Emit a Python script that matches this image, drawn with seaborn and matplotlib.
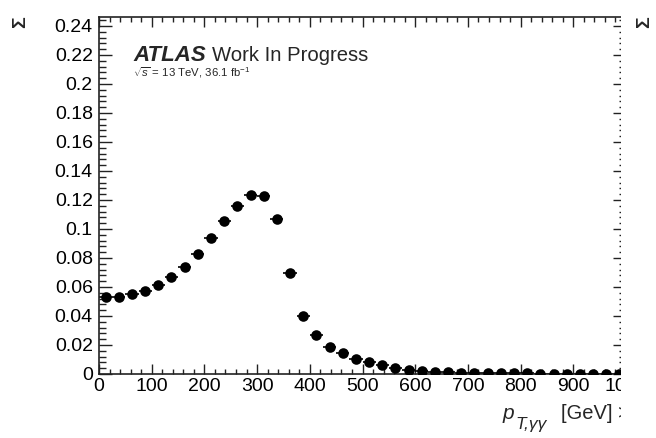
import numpy as np
import pandas as pd
import matplotlib
matplotlib.use("Agg")
import matplotlib.pyplot as plt
from matplotlib.ticker import MultipleLocator
from matplotlib.patches import Rectangle
import seaborn as sns

# Diphoton transverse momentum: 25 GeV bins from 0 to 1000 GeV
bin_edges = np.arange(0, 1001, 25)
bin_centers = 0.5 * (bin_edges[:-1] + bin_edges[1:])
fractions = [
    0.0529, 0.0533, 0.0550, 0.0572, 0.0614, 0.0667, 0.0740, 0.0830,
    0.0940, 0.1057, 0.1159, 0.1232, 0.1228, 0.1071, 0.0695, 0.0400,
    0.0267, 0.0188, 0.0143, 0.0102, 0.0080, 0.0060, 0.0044, 0.0030,
    0.0022, 0.0017, 0.0012, 0.0009, 0.0007, 0.0006, 0.0005, 0.0004,
    0.0004, 0.0003, 0.0003, 0.0002, 0.0002, 0.0002, 0.0002, 0.0001,
]
x_ticks = [0, 100, 200, 300, 400, 500, 600, 700, 800, 900, 1000]
y_ticks = [0, 0.02, 0.04, 0.06, 0.08, 0.1, 0.12, 0.14, 0.16, 0.18, 0.2, 0.22, 0.24]

df = pd.DataFrame({"pt": bin_centers, "frac": fractions,
                   "halfwidth": np.diff(bin_edges) / 2})

sns.set_theme(style="ticks")
plt.rcParams["font.family"] = ["Liberation Sans", "DejaVu Sans"]
plt.rcParams["mathtext.fontset"] = "custom"
plt.rcParams["mathtext.rm"] = "Liberation Sans"
plt.rcParams["mathtext.it"] = "Liberation Sans:italic"

W, H = 656, 438
fig = plt.figure(figsize=(W / 100, H / 100), dpi=100)
ax = fig.add_axes([99 / W, 1 - 374 / H, 527 / W, 357 / H])

# horizontal bin-width bars, then the markers
ax.errorbar(df["pt"], df["frac"], xerr=df["halfwidth"], fmt="none",
            ecolor="black", elinewidth=1.2, capsize=0, zorder=2)
sns.scatterplot(data=df, x="pt", y="frac", ax=ax, color="black",
                marker="o", s=58, edgecolor="black", linewidth=0, zorder=3,
                legend=False)

ax.set_xlim(0, 1000)
ax.set_ylim(0, 0.2462)
ax.set_xticks(x_ticks)
ax.set_xticklabels([str(v) for v in x_ticks])
ax.set_yticks(y_ticks)
ax.set_yticklabels([f"{v:g}" for v in y_ticks])
ax.xaxis.set_minor_locator(MultipleLocator(20))
ax.yaxis.set_minor_locator(MultipleLocator(0.004))
ax.set_xlabel("")
ax.set_ylabel("")

for s in ax.spines.values():
    s.set_visible(True)
    s.set_linewidth(1.2)
    s.set_color("#222222")
ax.tick_params(which="both", direction="in", top=True, right=True,
               colors="#222222", width=1.0, labelcolor="black", labelsize=14)
ax.tick_params(axis="y", which="major", length=9.5, pad=4.5)
ax.tick_params(axis="y", which="minor", length=5)
ax.tick_params(axis="x", which="major", length=7.5, pad=3)
ax.tick_params(axis="x", which="minor", length=3.8)

# experiment label
fig.canvas.draw()
renderer = fig.canvas.get_renderer()
atlas = fig.text(133 / W, 1 - 61 / H, "ATLAS", fontsize=16,
                 fontweight="bold", fontstyle="italic", va="baseline", ha="left")
bb = atlas.get_window_extent(renderer)
fig.text((bb.x1 + 6) / W, 1 - 61 / H, "Work In Progress", fontsize=14.6,
         va="baseline", ha="left")
fig.text(133 / W, 1 - 77 / H, r"$\sqrt{s}$ = 13 TeV, 36.1 fb$^{-1}$",
         fontsize=8.2, va="baseline", ha="left")

# x-axis title, built from pieces so the subscript keeps its size
p = fig.text(503 / W, 1 - 419 / H, "p", fontsize=15, fontstyle="italic",
             va="baseline", ha="left")
pb = p.get_window_extent(renderer)
sub = fig.text((pb.x1 + 1) / W, 1 - 429 / H, "T,γγ", fontsize=12.5,
               fontstyle="italic", va="baseline", ha="left")
sb = sub.get_window_extent(renderer)
fig.text((sb.x1 + 14) / W, 1 - 419 / H, "[GeV] >", fontsize=14.5,
         va="baseline", ha="left")

# y-axis title (only its first symbol falls inside the pad)
fig.text(21 / W, 1 - 22 / H, "Σ", rotation=90, fontsize=14,
         fontweight="bold", ha="center", va="center")

# the pad ends on the right; a neighbouring pad's axis title sits beyond it
fig.patches.append(Rectangle((621 / W, 0), 1 - 621 / W, 1,
                             transform=fig.transFigure, facecolor="white",
                             edgecolor="none", zorder=50))
fig.text(645 / W, 1 - 22 / H, "Σ", rotation=90, fontsize=14,
         fontweight="bold", ha="center", va="center", zorder=60)

fig.savefig("out.png", dpi=100, facecolor="white")
